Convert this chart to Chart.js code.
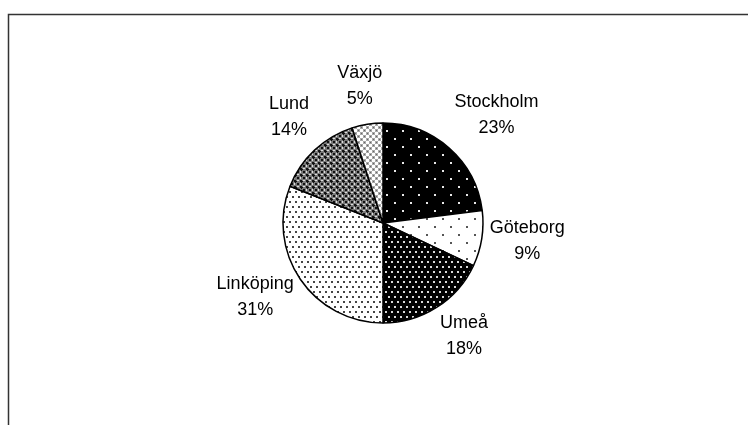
<!DOCTYPE html>
<html>
<head>
<meta charset="utf-8">
<script src="https://cdn.jsdelivr.net/npm/chart.js@4"></script>
<style>
  html,body{margin:0;padding:0;background:#fff;overflow:hidden;}
  #wrap{position:relative;width:748px;height:425px;}
  canvas{display:block;}
</style>
</head>
<body>
<div id="wrap"><canvas id="c" width="748" height="425"></canvas></div>
<script>
const categories = ["Stockholm", "Göteborg", "Umeå", "Linköping", "Lund", "Växjö"];
const shares = [23, 9, 18, 31, 14, 5];
const percentLabels = ["23%", "9%", "18%", "31%", "14%", "5%"];

function makePattern(w, h, draw) {
  const c = document.createElement('canvas');
  c.width = w; c.height = h;
  const g = c.getContext('2d');
  draw(g);
  return document.getElementById('c').getContext('2d').createPattern(c, 'repeat');
}
function dots(bg, fg, w, h, pts, s) {
  return makePattern(w, h, g => {
    g.fillStyle = bg; g.fillRect(0, 0, w, h);
    g.fillStyle = fg;
    pts.forEach(p => g.fillRect(p[0], p[1], s, s));
  });
}
const patterns = [
  dots('#000', '#e8e8e8', 16, 16, [[2,2],[10,10]], 2),
  dots('#fff', '#555', 16, 16, [[2,2],[10,10]], 2),
  dots('#000', '#d8d8d8', 6, 10, [[1,1],[4,6]], 2),
  dots('#fff', '#444', 6, 10, [[1,1],[4,6]], 2),
  makePattern(6, 6, g => {
    g.fillStyle = '#7a7a7a'; g.fillRect(0, 0, 6, 6);
    g.fillStyle = '#111';
    g.fillRect(0, 0, 2, 2); g.fillRect(3, 3, 2, 2);
    g.fillRect(2, 1, 1, 1); g.fillRect(1, 2, 1, 1);
    g.fillStyle = '#ddd';
    g.fillRect(3, 0, 2, 1); g.fillRect(0, 3, 1, 2);
  }),
  makePattern(6, 6, g => {
    g.fillStyle = '#fff'; g.fillRect(0, 0, 6, 6);
    g.fillStyle = '#a8a8a8';
    g.fillRect(0, 0, 3, 3); g.fillRect(3, 3, 3, 3);
    g.fillStyle = '#666';
    g.fillRect(1, 1, 1, 1); g.fillRect(4, 4, 1, 1);
  })
];

const framePlugin = {
  id: 'frame',
  beforeDraw(chart) {
    const ctx = chart.ctx;
    ctx.save();
    ctx.fillStyle = '#fff';
    ctx.fillRect(0, 0, chart.width, chart.height);
    ctx.strokeStyle = '#333';
    ctx.lineWidth = 1.5;
    ctx.strokeRect(8.5, 14.5, 900, 600);
    ctx.restore();
  }
};

const clamp = v => Math.max(-1, Math.min(1, v));
const labelPlugin = {
  id: 'outsideLabels',
  afterDatasetsDraw(chart) {
    const ctx = chart.ctx;
    const meta = chart.getDatasetMeta(0);
    ctx.save();
    ctx.font = '18px "Liberation Sans", Arial, sans-serif';
    ctx.fillStyle = '#000';
    ctx.textAlign = 'center';
    ctx.textBaseline = 'middle';
    const lh = 26, gap = 8, halfH = 26;
    meta.data.forEach((arc, i) => {
      const p = arc.getProps(['x', 'y', 'startAngle', 'endAngle', 'outerRadius'], true);
      const mid = (p.startAngle + p.endAngle) / 2;
      const dx = Math.cos(mid), dy = Math.sin(mid);
      const l1 = chart.data.labels[i], l2 = percentLabels[i];
      const w = Math.max(ctx.measureText(l1).width, ctx.measureText(l2).width);
      const ax = p.x + dx * (p.outerRadius + gap);
      const ay = p.y + dy * (p.outerRadius + gap);
      const cx = ax + (w / 2) * clamp(1.8 * dx);
      const cy = ay + halfH * clamp(1.2 * dy) - 4;
      ctx.fillText(l1, cx, cy - lh / 2);
      ctx.fillText(l2, cx, cy + lh / 2);
    });
    ctx.restore();
  }
};

new Chart(document.getElementById('c'), {
  type: 'pie',
  data: {
    labels: categories,
    datasets: [{
      data: shares,
      backgroundColor: patterns,
      borderColor: '#000',
      borderWidth: 1.5,
      borderAlign: 'center'
    }]
  },
  options: {
    responsive: false,
    animation: false,
    radius: 100,
    layout: { padding: { left: 18, right: 0, top: 21, bottom: 0 } },
    plugins: {
      legend: { display: false },
      tooltip: { enabled: false },
      title: { display: false }
    },
    events: []
  },
  plugins: [framePlugin, labelPlugin]
});
</script>
</body>
</html>
